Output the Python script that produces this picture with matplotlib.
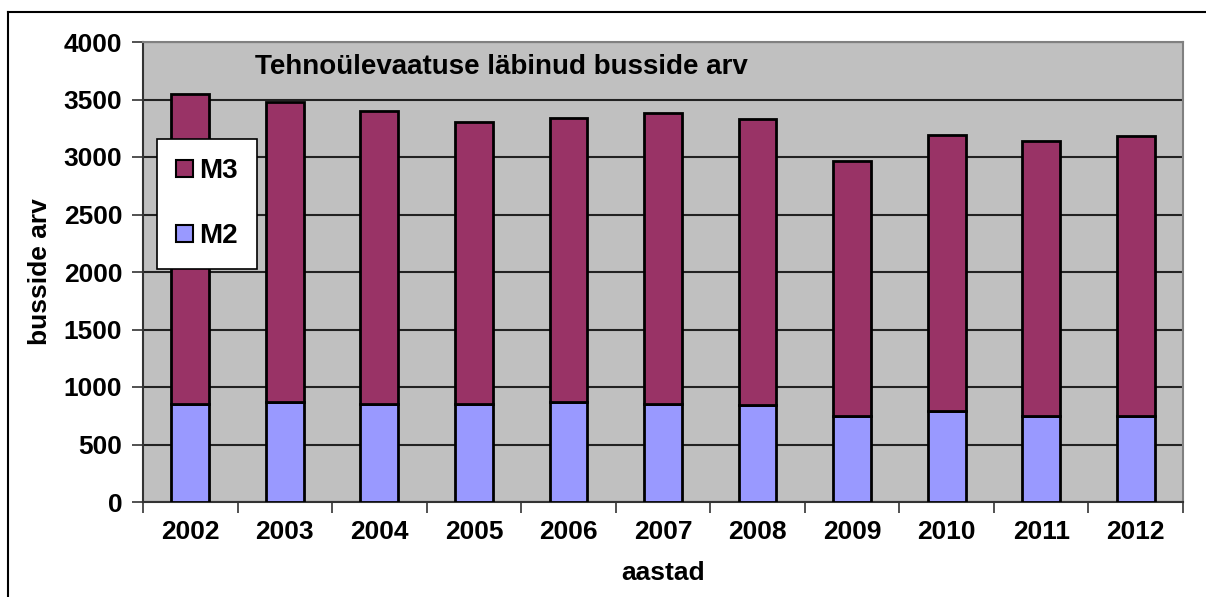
import matplotlib.pyplot as plt
import numpy as np
from matplotlib.patches import Rectangle
from matplotlib.lines import Line2D

years = ['2002', '2003', '2004', '2005', '2006', '2007', '2008', '2009', '2010', '2011', '2012']
m2 = [855, 872, 855, 855, 872, 852, 846, 745, 789, 745, 745]
total = [3548, 3476, 3403, 3304, 3336, 3386, 3328, 2965, 3191, 3142, 3183]
m3 = [t - b for t, b in zip(total, m2)]

M3_COLOR = '#993366'
M2_COLOR = '#9999FF'

plt.rcParams['font.family'] = ['Liberation Sans', 'DejaVu Sans']
plt.rcParams['font.weight'] = 'bold'

fig = plt.figure(figsize=(12.06, 5.97), dpi=100)
ax = fig.add_axes([143 / 1206, 1 - 502 / 597, 1040 / 1206, 460 / 597])
ax.set_facecolor('#C0C0C0')

x = np.arange(len(years))
ax.bar(x, m2, width=0.4, color=M2_COLOR, edgecolor='black', linewidth=2, zorder=3, label='M2')
ax.bar(x, m3, width=0.4, bottom=m2, color=M3_COLOR, edgecolor='black', linewidth=2, zorder=3, label='M3')

ax.set_xlim(-0.5, len(years) - 0.5)
ax.set_ylim(0, 4000)
ax.set_yticks(np.arange(0, 4001, 500))
ax.yaxis.grid(True, color='#222222', linewidth=1.5, zorder=1)
ax.set_axisbelow(True)

ax.set_xticks(x)
ax.set_xticklabels(years, fontsize=19, fontweight='bold')
ax.set_xticks(np.arange(-0.5, len(years)), minor=True)
ax.tick_params(axis='x', which='major', length=0, pad=13)
ax.tick_params(axis='x', which='minor', length=8, width=1.2, color='#333333')
ax.tick_params(axis='y', length=8, width=1.2, color='#333333', labelsize=19, pad=7)
for lab in ax.get_yticklabels():
    lab.set_fontweight('bold')

for side in ['top', 'right']:
    ax.spines[side].set_color('#808080')
    ax.spines[side].set_linewidth(1.5)
for side in ['left', 'bottom']:
    ax.spines[side].set_color('#333333')
    ax.spines[side].set_linewidth(1.5)

ax.set_ylabel('busside arv', fontsize=19, fontweight='bold', labelpad=8)
ax.set_xlabel('aastad', fontsize=19, fontweight='bold', labelpad=12)

ax.text(0.108, 0.945, 'Tehnoülevaatuse läbinud busside arv', transform=ax.transAxes,
        fontsize=20, fontweight='bold', va='center', ha='left')

handles = [Rectangle((0, 0), 1, 1, facecolor=M3_COLOR, edgecolor='black', linewidth=1.5),
           Rectangle((0, 0), 1, 1, facecolor=M2_COLOR, edgecolor='black', linewidth=1.5)]
leg = ax.legend(handles, ['M3', 'M2'], loc='upper left', bbox_to_anchor=(14 / 1040, 1 - 97 / 460),
                fontsize=20, frameon=True, fancybox=False, framealpha=1, edgecolor='black',
                handlelength=0.6, handleheight=0.6, handletextpad=0.2, labelspacing=1.4,
                borderpad=0.7, borderaxespad=0)
leg.get_frame().set_linewidth(1.2)
leg.set_zorder(5)

# outer chart border (cut off on right and bottom)
fig.add_artist(Line2D([8 / 1206, 8 / 1206], [0, 1 - 12 / 597], transform=fig.transFigure,
                      color='black', linewidth=1.5))
fig.add_artist(Line2D([8 / 1206, 1], [1 - 12 / 597, 1 - 12 / 597], transform=fig.transFigure,
                      color='black', linewidth=1.5))

fig.savefig('out.png', dpi=100)
